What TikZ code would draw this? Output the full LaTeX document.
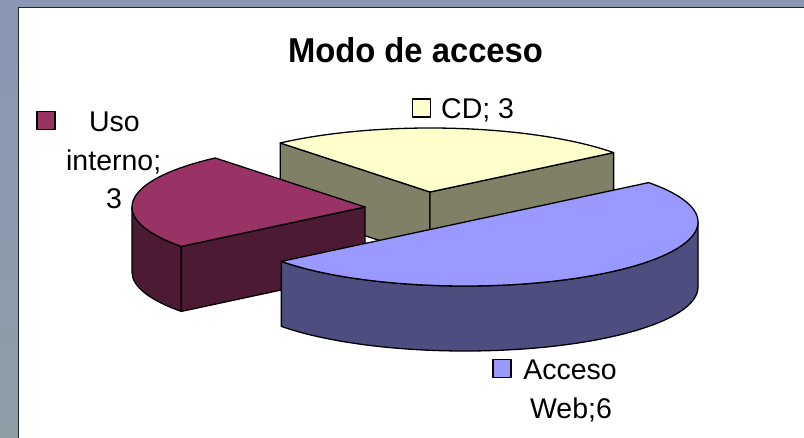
\documentclass[tikz,border=0pt]{standalone}
\usepackage{fontspec}
\setmainfont{Liberation Sans}
\usetikzlibrary{calc}
\definecolor{bgtop}{HTML}{8A96B4}
\definecolor{bgbot}{HTML}{8E9DA6}
\definecolor{cdtop}{HTML}{FFFFCC}
\definecolor{cdside}{HTML}{808066}
\definecolor{mtop}{HTML}{993366}
\definecolor{mside}{HTML}{4D1A33}
\definecolor{btop}{HTML}{9999FF}
\definecolor{bside}{HTML}{4D4D80}
\begin{document}
\begin{tikzpicture}[x=1pt,y=1pt,line join=round,
  face/.style={draw=black,line width=1.3pt},
  lbl/.style={font=\fontsize{28.5}{34}\selectfont,inner sep=0pt,anchor=base},
  keybox/.style={draw=black,line width=1.2pt,minimum size=18pt,inner sep=0pt},
  ell/.style={x radius=233,y radius=64}]
\useasboundingbox (0,0) rectangle (804,-437);
\shade[top color=bgtop,bottom color=bgbot] (0,0) rectangle (804,-437);
\fill[white] (18.5,-7.5) rectangle (806,-439);
\draw[line width=1.6pt,black!85] (18.5,-439) -- (18.5,-7.5) -- (806,-7.5);

% ---- CD slice (back)
\coordinate (cd) at (430,-192);
\coordinate (cdA) at ($(cd)+(130:233pt and 64pt)$);
\coordinate (cdB) at ($(cd)+(38:233pt and 64pt)$);
\filldraw[face,fill=cdside] (cdA) -- (cd) -- ($(cd)+(0,-65)$) -- ($(cdA)+(0,-65)$) -- cycle;
\filldraw[face,fill=cdside] (cd) -- (cdB) -- ($(cdB)+(0,-65)$) -- ($(cd)+(0,-65)$) -- cycle;
\filldraw[face,fill=cdtop] (cd) -- (cdA) arc[start angle=130,end angle=38,ell] -- cycle;

% ---- Uso interno slice (left)
\coordinate (m) at (365,-207);
\coordinate (mA) at ($(m)+(130:233pt and 64pt)$);
\coordinate (mL) at ($(m)+(180:233pt and 64pt)$);
\coordinate (mB) at ($(m)+(218:233pt and 64pt)$);
\filldraw[face,fill=mside] (mL) arc[start angle=180,end angle=218,ell] -- ++(0,-65) arc[start angle=218,end angle=180,ell] -- cycle;
\filldraw[face,fill=mside] (mB) -- (m) -- ($(m)+(0,-65)$) -- ($(mB)+(0,-65)$) -- cycle;
\filldraw[face,fill=mtop] (m) -- (mA) arc[start angle=130,end angle=218,ell] -- cycle;

% ---- Acceso Web slice (front)
\coordinate (b) at (465,-222);
\coordinate (bA) at ($(b)+(218:233pt and 64pt)$);
\filldraw[face,fill=bside] (bA) arc[start angle=218,end angle=360,ell] -- ++(0,-65) arc[start angle=360,end angle=218,ell] -- cycle;
\filldraw[face,fill=btop] (bA) arc[start angle=218,end angle=398,ell] -- cycle;

% ---- Title
\node[font=\bfseries\fontsize{34.5}{40}\selectfont,inner sep=0pt,anchor=base] (title) at (415.5,-62.7) {\scalebox{0.95}[1]{Modo de acceso}};

% ---- Labels
\node[keybox,fill=cdtop] (kcd) at (421.5,-108) {};
\node[lbl,anchor=base west] (lcd) at (441,-118.3) {CD; 3};

\node[keybox,fill=mtop] (kuso) at (46,-120.5) {};
\node[lbl] (luso1) at (114.5,-131.7) {Uso};
\node[lbl] (luso2) at (113.7,-170) {interno;};
\node[lbl] (luso3) at (114,-208.3) {3};

\node[keybox,fill=btop] (kweb) at (502,-368.5) {};
\node[lbl] (lweb1) at (570,-379.3) {Acceso};
\node[lbl] (lweb2) at (571,-418.3) {Web;6};
\end{tikzpicture}
\end{document}
